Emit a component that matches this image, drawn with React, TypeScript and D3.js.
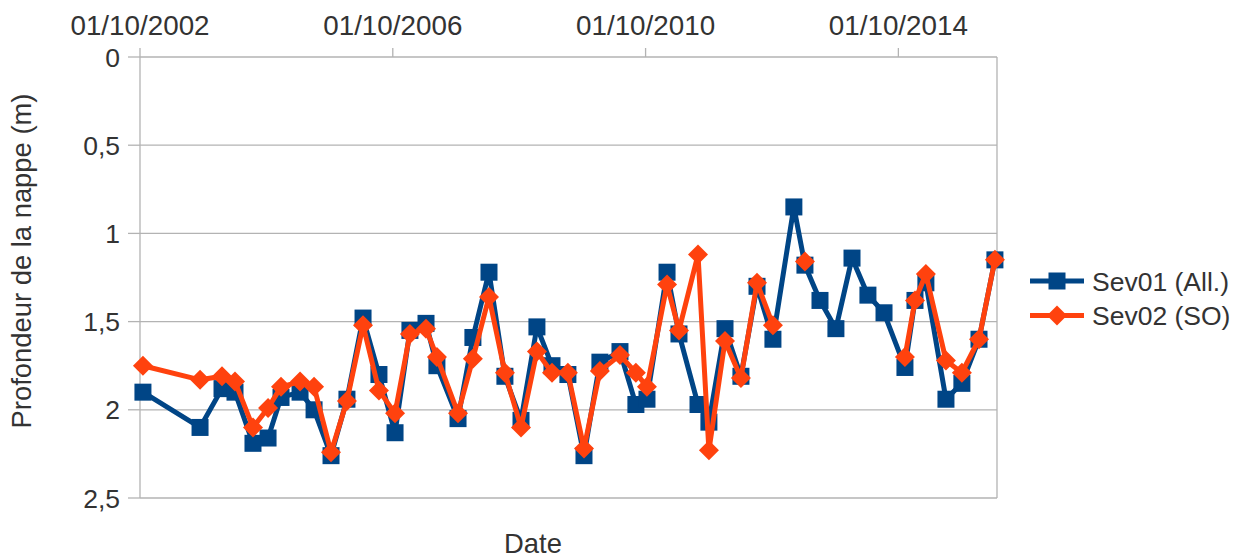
import React from "react";
import * as d3 from "d3";

const dates = [
  "2002-10-18","2003-09-13","2004-01-18","2004-04-02","2004-07-15","2004-10-10","2004-12-24",
  "2005-04-13","2005-07-03","2005-10-09","2006-01-09","2006-04-12","2006-07-13","2006-10-14",
  "2007-01-08","2007-04-11","2007-06-13","2007-10-13","2008-01-07","2008-04-09","2008-07-10",
  "2008-10-11","2009-01-11","2009-04-08","2009-07-09","2009-10-10","2010-01-10","2010-05-06",
  "2010-08-06","2010-10-09","2011-02-02","2011-04-12","2011-07-31","2011-10-02","2012-01-03",
  "2012-04-04","2012-07-06","2012-10-06","2013-02-04","2013-04-09","2013-07-05","2013-10-05",
  "2014-01-06","2014-04-08","2014-07-10","2014-11-08","2015-01-05","2015-03-09","2015-07-03",
  "2015-10-03","2016-01-10","2016-04-11"
];

const sev01: (number | null)[] = [
  1.90, 2.10, 1.88, 1.90, 2.19, 2.16, 1.93, 1.90, 2.00, 2.26, 1.94, 1.48, 1.80, 2.13,
  1.55, 1.51, 1.75, 2.05, 1.59, 1.22, 1.81, 2.06, 1.53, 1.75, 1.80, 2.26, 1.73, 1.67,
  1.97, 1.94, 1.22, 1.57, 1.97, 2.07, 1.54, 1.81, 1.30, 1.60, 0.85, 1.18, 1.38, 1.54,
  1.14, 1.35, 1.45, 1.76, 1.38, 1.28, 1.94, 1.85, 1.60, 1.15
];

const sev02: (number | null)[] = [
  1.75, 1.83, 1.81, 1.84, 2.10, 1.99, 1.87, 1.84, 1.87, 2.24, 1.95, 1.52, 1.89, 2.02,
  1.57, 1.54, 1.70, 2.02, 1.71, 1.36, 1.79, 2.10, 1.67, 1.79, 1.79, 2.22, 1.78, 1.69,
  1.79, 1.87, 1.29, 1.55, 1.12, 2.23, 1.61, 1.82, 1.28, 1.52, null, 1.16, null, null,
  null, null, null, 1.70, 1.38, 1.23, 1.72, 1.79, 1.60, 1.15
];

const xTickDates = ["2002-10-01", "2006-10-01", "2010-10-01", "2014-10-01"];
const xTickLabels = ["01/10/2002", "01/10/2006", "01/10/2010", "01/10/2014"];
const yTicks = [0, 0.5, 1, 1.5, 2, 2.5];
const seriesNames = ["Sev01 (All.)", "Sev02 (SO)"];
const seriesColors = ["#004586", "#ff420e"];

const parse = d3.timeParse("%Y-%m-%d");

export default function App() {
  const W = 1244, H = 558;
  const left = 140, right = 997, top = 57, bottom = 498;
  const x = d3.scaleTime()
    .domain([parse("2002-10-01") as Date, parse("2016-04-23") as Date])
    .range([left, right]);
  const y = d3.scaleLinear().domain([0, 2.5]).range([top, bottom]);
  const font = "'Liberation Sans', Arial, sans-serif";
  const textColor = "#333";
  const grid = "#b3b3b3";
  const fs = 26.5;
  const fsBig = 27.8;

  const series = [sev01, sev02];
  const lineGen = d3.line<[Date, number | null]>()
    .defined((d) => d[1] !== null)
    .x((d) => x(d[0]))
    .y((d) => y(d[1] as number));

  const fmt = (v: number) => String(v).replace(".", ",");

  const square = (cx: number, cy: number, s: number, color: string, key: string) => (
    <rect key={key} x={cx - s / 2} y={cy - s / 2} width={s} height={s} fill={color} />
  );
  const diamond = (cx: number, cy: number, r: number, color: string, key: string) => (
    <path key={key} d={`M${cx},${cy - r}L${cx + r},${cy}L${cx},${cy + r}L${cx - r},${cy}Z`} fill={color} />
  );

  return (
    <svg width={W} height={H} style={{ position: "absolute", left: 0, top: 0, background: "#fff" }}>
      <rect x={0} y={0} width={W} height={H} fill="#fff" />
      {yTicks.map((t) => (
        <g key={"y" + t}>
          <line x1={left} x2={right} y1={y(t)} y2={y(t)} stroke={grid} strokeWidth={1.3} />
          <line x1={left - 12} x2={left} y1={y(t)} y2={y(t)} stroke={grid} strokeWidth={1.3} />
          <text x={120} y={y(t)} dy="0.36em" textAnchor="end" fontFamily={font} fontSize={fs} fill={textColor}>
            {fmt(t)}
          </text>
        </g>
      ))}
      <line x1={left} x2={left} y1={top} y2={bottom} stroke={grid} strokeWidth={1.3} />
      <line x1={right} x2={right} y1={top} y2={bottom} stroke={grid} strokeWidth={1.3} />
      {xTickDates.map((d, i) => {
        const px = x(parse(d) as Date);
        return (
          <g key={"x" + d}>
            <line x1={px} x2={px} y1={top - 9} y2={top} stroke={grid} strokeWidth={1.3} />
            <text x={px} y={35} textAnchor="middle" fontFamily={font} fontSize={fsBig} fill={textColor}>
              {xTickLabels[i]}
            </text>
          </g>
        );
      })}
      {series.map((vals, si) => {
        const pts: [Date, number | null][] = dates.map((d, i) => [parse(d) as Date, vals[i]]);
        const color = seriesColors[si];
        return (
          <g key={"s" + si}>
            <path d={lineGen(pts) || ""} fill="none" stroke={color} strokeWidth={5} strokeLinejoin="round" />
            {pts.map((p, i) =>
              p[1] === null
                ? null
                : si === 0
                ? square(x(p[0]), y(p[1]), 17, color, "m" + i)
                : diamond(x(p[0]), y(p[1]), 10, color, "m" + i)
            )}
          </g>
        );
      })}
      <text
        transform={`translate(31,261) rotate(-90)`}
        textAnchor="middle"
        fontFamily={font}
        fontSize={27.4}
        fill={textColor}
      >
        Profondeur de la nappe (m)
      </text>
      <text x={533} y={553} textAnchor="middle" fontFamily={font} fontSize={27.4} fill={textColor}>
        Date
      </text>
      {seriesNames.map((n, i) => {
        const ly = 281 + i * 34.5;
        return (
          <g key={"l" + i}>
            <line x1={1030} x2={1084} y1={ly} y2={ly} stroke={seriesColors[i]} strokeWidth={5} />
            {i === 0 ? square(1057, ly, 17, seriesColors[i], "lm") : diamond(1057, ly, 10, seriesColors[i], "lm")}
            <text x={1092} y={ly} dy="0.36em" fontFamily={font} fontSize={fs} fill={textColor}>
              {n}
            </text>
          </g>
        );
      })}
    </svg>
  );
}
